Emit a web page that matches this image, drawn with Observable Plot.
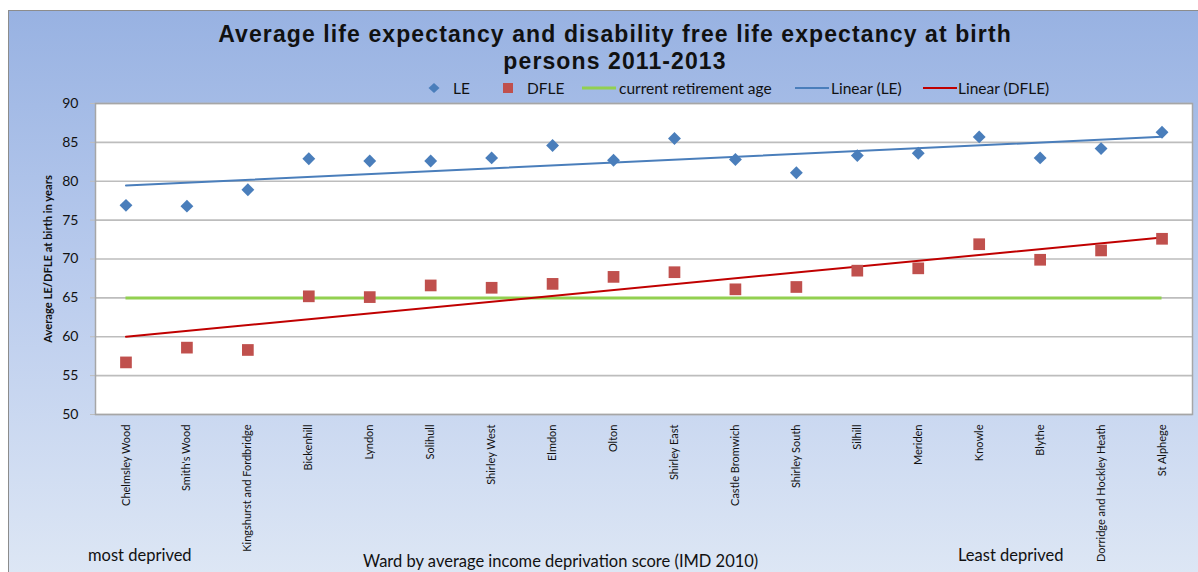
<!DOCTYPE html>
<html>
<head>
<meta charset="utf-8">
<script src="https://cdn.jsdelivr.net/npm/d3@7"></script>
<script src="https://cdn.jsdelivr.net/npm/@observablehq/plot@0.6"></script>
<style>
  html, body { margin: 0; padding: 0; background: #fff; overflow: hidden; }
  body { width: 1198px; height: 572px; position: relative; font-family: Lato, "Open Sans", sans-serif; }
  #frame {
    position: absolute; left: 8px; top: 10px; width: 1200px; height: 580px;
    border: 1px solid #8c8c8c;
    background: linear-gradient(180deg, #98b2e2 0%, #b9cbed 45%, #dfe8f5 100%);
  }
  #title { padding-top: 10px; height: 54px; text-align: center; font-family: "Liberation Sans", Arial, sans-serif; font-weight: 700; font-size: 23px; letter-spacing: 1.1px; line-height: 27px; color: #111; width: 1212px; }
  #legend { position: relative; height: 20px; margin-top: 3px; font-size: 15.5px; color: #111; }
  #legend .item { position: absolute; top: 0; height: 20px; line-height: 20px; white-space: nowrap; }
  #legend svg { position: absolute; top: 0; }
  #chart svg { overflow: visible; }
  #caption { position: relative; height: 28px; font-size: 16.5px; line-height: 17px; color: #111; }
  #caption span { position: absolute; white-space: nowrap; }
</style>
</head>
<body>
<div id="frame">
  <div id="title">Average life expectancy and disability free life expectancy at birth<br>persons 2011-2013</div>
  <div id="legend"></div>
  <div id="chart"></div>
  <div id="caption"></div>
</div>
<script>
// ---- data ----
const wards = ["Chelmsley Wood", "Smith's Wood", "Kingshurst and Fordbridge", "Bickenhill", "Lyndon", "Solihull",
  "Shirley West", "Elmdon", "Olton", "Shirley East", "Castle Bromwich", "Shirley South", "Silhill", "Meriden",
  "Knowle", "Blythe", "Dorridge and Hockley Heath", "St Alphege"];
const le   = [76.9, 76.8, 78.9, 82.9, 82.6, 82.6, 83.0, 84.6, 82.7, 85.5, 82.8, 81.1, 83.3, 83.6, 85.7, 83.0, 84.2, 86.3];
const dfle = [56.7, 58.6, 58.3, 65.2, 65.1, 66.6, 66.3, 66.8, 67.7, 68.3, 66.1, 66.4, 68.5, 68.8, 71.9, 69.9, 71.1, 72.6];
const retirementAge = 65;
const yTicks = [50, 55, 60, 65, 70, 75, 80, 85, 90];
const yTitle = "Average LE/DFLE at birth in years";
const xTitle = "Ward by average income deprivation score (IMD 2010)";
const leftNote = "most deprived";
const rightNote = "Least deprived";

const colors = { le: "#4a7ebb", dfle: "#c0504d", retire: "#92d050", leTrend: "#4a7ebb", dfleTrend: "#c00000" };

const idx = wards.map((_, i) => i + 1);
const leRows = idx.map((i) => ({ x: i, y: le[i - 1] }));
const dfleRows = idx.map((i) => ({ x: i, y: dfle[i - 1] }));

// ---- legend ----
const legendItems = [
  { kind: "diamond", color: colors.le, label: "LE", sx: 428, tx: 453 },
  { kind: "square", color: colors.dfle, label: "DFLE", sx: 502, tx: 527 },
  { kind: "line", color: colors.retire, w: 3, label: "current retirement age", sx: 582, tx: 619 },
  { kind: "line", color: colors.leTrend, w: 2, label: "Linear (LE)", sx: 795, tx: 831 },
  { kind: "line", color: colors.dfleTrend, w: 2, label: "Linear (DFLE)", sx: 923, tx: 958 }
];
const legend = document.getElementById("legend");
for (const it of legendItems) {
  const ns = "http://www.w3.org/2000/svg";
  const s = document.createElementNS(ns, "svg");
  const w = it.kind === "line" ? 34 : 12;
  s.setAttribute("width", w); s.setAttribute("height", 20);
  s.style.left = (it.sx - 9) + "px";
  let el;
  if (it.kind === "diamond") {
    el = document.createElementNS(ns, "path");
    el.setAttribute("d", "M6,5 L11.5,10 L6,15 L0.5,10 Z");
    el.setAttribute("fill", it.color);
  } else if (it.kind === "square") {
    el = document.createElementNS(ns, "rect");
    el.setAttribute("x", 1); el.setAttribute("y", 5); el.setAttribute("width", 10); el.setAttribute("height", 10);
    el.setAttribute("fill", it.color);
  } else {
    el = document.createElementNS(ns, "line");
    el.setAttribute("x1", 0); el.setAttribute("x2", w); el.setAttribute("y1", 10); el.setAttribute("y2", 10);
    el.setAttribute("stroke", it.color); el.setAttribute("stroke-width", it.w);
  }
  s.appendChild(el);
  legend.appendChild(s);
  const t = document.createElement("span");
  t.className = "item"; t.textContent = it.label; t.style.left = (it.tx - 9) + "px";
  legend.appendChild(t);
}

// ---- chart ----
const chart = Plot.plot({
  width: 1189,
  height: 446,
  marginLeft: 86,
  marginRight: 6,
  marginTop: 5,
  marginBottom: 130,
  style: { background: "transparent", overflow: "visible", fontFamily: "Lato, 'Open Sans', sans-serif", color: "#111" },
  x: { type: "linear", domain: [0.5, wards.length + 0.5] },
  y: { domain: [50, 90] },
  marks: [
    Plot.frame({ fill: "white" }),
    Plot.gridY(yTicks, { stroke: "#bdbdbd", strokeOpacity: 1, strokeWidth: 1.6 }),
    Plot.axisY(yTicks, { label: null, tickSize: 5, tickPadding: 12, fontSize: 14, stroke: "#bdbdbd" }),
    Plot.axisX(idx, { label: null, tickFormat: (d) => wards[d - 1], tickRotate: -90, tickSize: 0, tickPadding: 10, fontSize: 11 }),
    Plot.text([yTitle], { frameAnchor: "left", textAnchor: "middle", rotate: -90, dx: -47, fontWeight: "bold", fontSize: 11.2 }),
    Plot.ruleY([retirementAge], { x1: idx[0], x2: idx[idx.length - 1], stroke: colors.retire, strokeWidth: 3 }),
    Plot.linearRegressionY(leRows, { x: "x", y: "y", ci: 0, stroke: colors.leTrend, strokeWidth: 2 }),
    Plot.linearRegressionY(dfleRows, { x: "x", y: "y", ci: 0, stroke: colors.dfleTrend, strokeWidth: 2 }),
    Plot.dot(leRows, { x: "x", y: "y", symbol: "diamond2", r: 5.8, fill: colors.le, stroke: "none" }),
    Plot.dot(dfleRows, { x: "x", y: "y", symbol: "square", r: 6.6, fill: colors.dfle, stroke: "none" }),
    Plot.frame({ stroke: "#a6a6a6", strokeWidth: 1.5 })
  ]
});
document.getElementById("chart").appendChild(chart);

// ---- caption ----
const cap = document.getElementById("caption");
[[leftNote, 79, 3], [xTitle, 354, 9], [rightNote, 949, 3]].forEach(([txt, left, top]) => {
  const s = document.createElement("span");
  s.textContent = txt; s.style.left = left + "px"; s.style.top = top + "px";
  cap.appendChild(s);
});
</script>
</body>
</html>
